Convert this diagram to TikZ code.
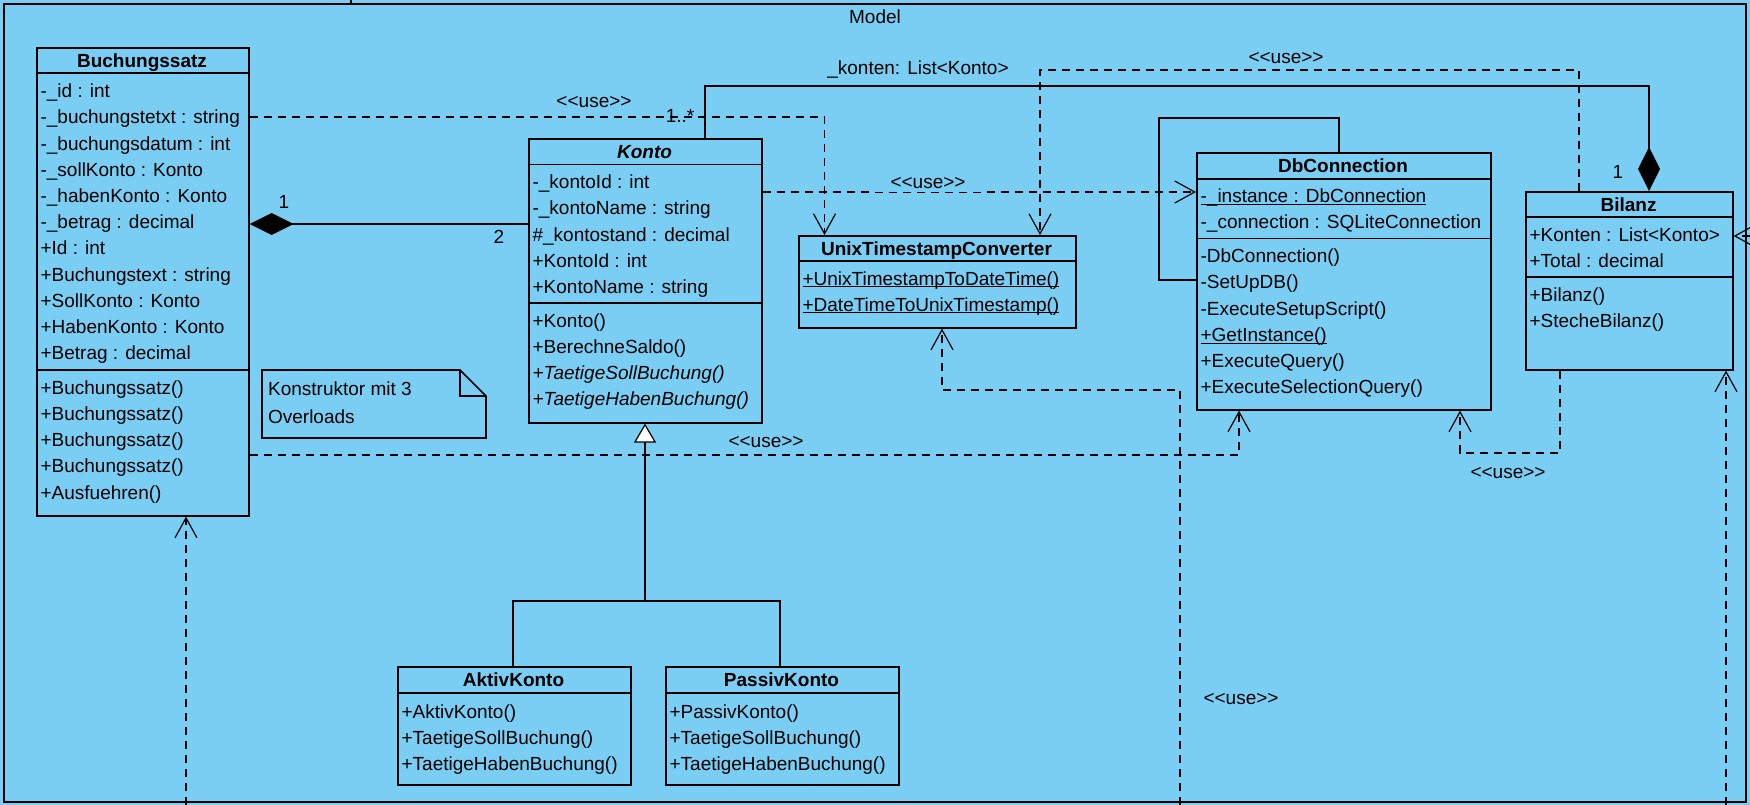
\documentclass[tikz,border=0pt]{standalone}
\usepackage{fontspec}
\setmainfont{Liberation Sans}
\usetikzlibrary{calc}
\usetikzlibrary{arrows.meta}
\definecolor{modelbg}{RGB}{122,206,244}
\newcommand{\static}[1]{\underline{\raisebox{0pt}[\height][0pt]{#1}}}

\begin{document}
\begin{tikzpicture}[x=1pt, y=-1pt, line width=1.2pt,
        font=\fontsize{19}{26}\selectfont,
        pkg/.style={draw=black,line width=2pt,anchor=north west,inner sep=0pt},
        classbox/.style={draw=black,line width=1.6pt,anchor=north west,inner sep=0pt},
        ctitle/.style={font=\fontsize{19}{26}\selectfont\bfseries,anchor=base,inner sep=0pt},
        member/.style={anchor=base west,inner sep=0pt},
        sepline/.style={line width=1.6pt},
        comp/.style={{Diamond[length=44pt,width=22pt]}-},
        gen/.style={-{Triangle[length=19pt,width=22pt,fill=white]}},
        dep/.style={dash pattern=on 8pt off 6pt,-{Straight Barb[length=20pt,width=22pt]}},
        lbl/.style={inner sep=0pt}]
      \useasboundingbox (0,0) rectangle (1750,805);
      \fill[modelbg] (0,0) rectangle (1750,805);
      \newcommand{\umlclass}[6]{%
        \node[classbox, minimum width=#4pt, minimum height=#5pt] (#1) at (#2,#3) {};
        \node[ctitle] (#1-title) at ({#2+#4/2},{#3+20.5}) {#6};
      }
      \newcommand{\compsep}[2]{%
        \draw[sepline] (#1.west |- 0,#2) -- (#1.east |- 0,#2);
      }
      \newcommand{\members}[4]{%
        \foreach \m [count=\i from 0] in {#4}
          \node[member] (#1-\i) at ({#2+4},{#3+26.2*\i}) {\m};
      }
      % package frame
      \node[pkg, minimum width=1742pt, minimum height=798pt] (model) at (3,3) {};
      \draw[line width=2pt] (351,0) -- (model.north -| 351,0);
      \node[lbl] (model-name) at (875,17) {Model};
      % classes
      \umlclass{buchungssatz}{36}{47}{212}{468}{Buchungssatz}
      \compsep{buchungssatz}{73}\compsep{buchungssatz}{370}
      \members{bs-a}{36}{97.7}{-\_id : int, -\_buchungstetxt : string, -\_buchungsdatum : int,
        -\_sollKonto : Konto, -\_habenKonto : Konto, -\_betrag : decimal, +Id : int,
        +Buchungstext : string, +SollKonto : Konto, +HabenKonto : Konto, +Betrag : decimal}
      \members{bs-m}{36}{394.3}{+Buchungssatz(), +Buchungssatz(), +Buchungssatz(),
        +Buchungssatz(), +Ausfuehren()}
      \umlclass{konto}{528}{138}{233}{284}{\textit{Konto}}
      \compsep{konto}{164.5}\compsep{konto}{303}
      \members{ko-a}{528}{188.7}{-\_kontoId : int, -\_kontoName : string, \#\_kontostand : decimal,
        +KontoId : int, +KontoName : string}
      \members{ko-m}{528}{327}{+Konto(), +BerechneSaldo(), \textit{+TaetigeSollBuchung()},
        \textit{+TaetigeHabenBuchung()}}
      \umlclass{utc}{798}{235}{277}{92}{UnixTimestampConverter}
      \compsep{utc}{261}
      \members{utc-m}{798}{285}{\static{+UnixTimestampToDateTime()},
        \static{+DateTimeToUnixTimestamp()}}
      \umlclass{dbconnection}{1196}{152}{294}{257}{DbConnection}
      \compsep{dbconnection}{179}\compsep{dbconnection}{238.5}
      \members{db-a}{1196}{202.7}{\static{-\_instance : DbConnection}, -\_connection : SQLiteConnection}
      \members{db-m}{1196}{262.7}{-DbConnection(), -SetUpDB(), -ExecuteSetupScript(),
        \static{+GetInstance()}, +ExecuteQuery(), +ExecuteSelectionQuery()}
      \umlclass{bilanz}{1525}{191}{207}{178}{Bilanz}
      \compsep{bilanz}{217}\compsep{bilanz}{277}
      \members{bi-a}{1525}{241.7}{+Konten : List<Konto>, +Total : decimal}
      \members{bi-m}{1525}{301}{+Bilanz(), +StecheBilanz()}
      \umlclass{aktivkonto}{397}{666}{233}{118}{AktivKonto}
      \compsep{aktivkonto}{693}
      \members{ak-m}{397}{718.3}{+AktivKonto(), +TaetigeSollBuchung(), +TaetigeHabenBuchung()}
      \umlclass{passivkonto}{665}{666}{233}{118}{PassivKonto}
      \compsep{passivkonto}{693}
      \members{pk-m}{665}{718.3}{+PassivKonto(), +TaetigeSollBuchung(), +TaetigeHabenBuchung()}
      % note
      \draw[sepline] (262,370) -- (460,370) -- (486,396) -- (486,438) -- (262,438) -- cycle;
      \draw[sepline] (460,370) -- (460,396) -- (486,396);
      \node[member] (note-a) at (267.5,395.3) {Konstruktor mit 3};
      \node[member] (note-b) at (267.5,423.3) {Overloads};
      % loose ends of dependencies coming from outside the package
      \coordinate (ext-bs) at (186,805);
      \coordinate (ext-utc) at (1180,805);
      \coordinate (ext-bis) at (1726,805);
      \coordinate (ext-bie) at (1750,236);
      % compositions
      \draw[comp] (buchungssatz.east |- 0,224) -- (konto.west |- 0,224);
      \draw[comp] (bilanz.north -| 1649,0) -- (1649,86) -- (705,86) -- (konto.north -| 705,0);
      % generalization
      \draw (aktivkonto.north -| 513,0) -- (513,601) -- (780,601) -- (passivkonto.north -| 780,0);
      \draw[gen] (645,601) -- (konto.south -| 645,0);
      % singleton self association
      \draw (dbconnection.north -| 1339,0) -- (1339,118) -- (1159,118) -- (1159,280)
        -- (dbconnection.west |- 0,280);
      % dependencies
      \draw[dep] (buchungssatz.east |- 0,117) -- (824.5,117) -- (utc.north -| 824.5,0);
      \draw[dep] (konto.east |- 0,192) -- (dbconnection.west |- 0,192);
      \draw[dep] (bilanz.north -| 1579,0) -- (1579,70) -- (1040,70) -- (utc.north -| 1040,0);
      \draw[dep] (bilanz.south -| 1560,0) -- (1560,453) -- (1460,453) -- (dbconnection.south -| 1460,0);
      \draw[dep] (buchungssatz.east |- 0,455) -- (1239,455) -- (dbconnection.south -| 1239,0);
      \draw[dep] (ext-utc) -- (1180,390) -- (942,390) -- (utc.south -| 942,0);
      \draw[dep] (ext-bis) -- (bilanz.south -| 1726,0);
      \draw[dep] (ext-bie) -- (bilanz.east |- 0,236);
      \draw[dep] (ext-bs) -- (buchungssatz.south -| 186,0);
      % labels
      \node[lbl] (m-bs) at (284,202) {1};
      \node[lbl] (m-ko) at (499,237) {2};
      \node[lbl] (m-list) at (680,116) {1..*};
      \node[lbl] (m-bi) at (1618,172) {1};
      \node[lbl] (r-konten) at (918,70) {\_konten: List<Konto>};
      \node[lbl] (use-1) at (594,102) {<{}<use>{}>};
      \node[lbl, fill=modelbg, inner xsep=20pt, inner ysep=3pt] (use-2) at (928,183) {<{}<use>{}>};
      \node[lbl] (use-3) at (1286,58) {<{}<use>{}>};
      \node[lbl] (use-4) at (1508,473) {<{}<use>{}>};
      \node[lbl] (use-5) at (766,442) {<{}<use>{}>};
      \node[lbl] (use-6) at (1241,699) {<{}<use>{}>};
    \end{tikzpicture}
\end{document}
